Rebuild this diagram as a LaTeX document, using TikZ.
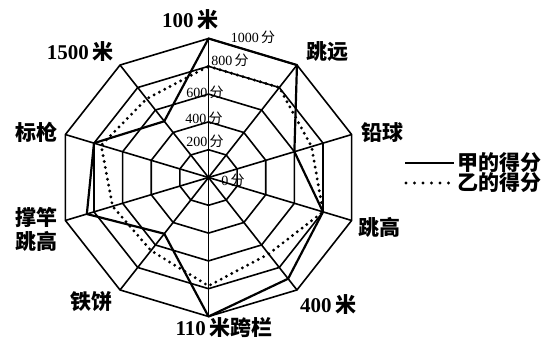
\documentclass[tikz,border=0pt]{standalone}
\usepackage{fontspec}
\setmainfont{Liberation Serif}
\newfontfamily\cjk{Noto Sans CJK SC}
\usetikzlibrary{calc}
\tikzset{
  grid/.style={line width=1.6pt, line join=miter},
  jia/.style={line width=2.2pt, line join=round},
  yi/.style={line width=3.2pt, line cap=round, dash pattern=on 0pt off 6pt},
  lab/.style={font=\fontsize{21}{22}\selectfont\bfseries, inner sep=0pt},
  ringlab/.style={font=\fontsize{14}{15}\selectfont, inner sep=0pt},
}
\begin{document}
\begin{tikzpicture}[x=1pt,y=-1pt]
\useasboundingbox[fill=white] (0,0) rectangle (556,340);
\coordinate (C) at (208.5,177.5);
\foreach \k in {0,...,9}{
  \pgfmathsetmacro\ang{90-36*\k}
  \coordinate (V\k) at ($(C)+({150.5*cos(\ang)},{-139*sin(\ang)})$);
}
% rings
\foreach \f in {0.2,0.4,0.6,0.8,1}{
  \draw[grid] ($(C)!\f!(V0)$) -- ($(C)!\f!(V1)$) -- ($(C)!\f!(V2)$) -- ($(C)!\f!(V3)$) -- ($(C)!\f!(V4)$)
    -- ($(C)!\f!(V5)$) -- ($(C)!\f!(V6)$) -- ($(C)!\f!(V7)$) -- ($(C)!\f!(V8)$) -- ($(C)!\f!(V9)$) -- cycle;
}
% spokes
\foreach \k in {0,...,9}{ \draw[grid] (C) -- (V\k); }
% data
\foreach \k/\v in {0/1,1/1,2/0.6,3/0.8,4/0.9,5/1,6/0.5,7/0.85,8/0.8,9/0.5}{
  \coordinate (A\k) at ($(C)!\v!(V\k)$);
}
\foreach \k/\v in {0/0.8,1/0.8,2/0.72,3/0.8,4/0.68,5/0.78,6/0.65,7/0.67,8/0.75,9/0.7}{
  \coordinate (B\k) at ($(C)!\v!(V\k)$);
}
\draw[jia] (A0) -- (A1) -- (A2) -- (A3) -- (A4) -- (A5) -- (A6) -- (A7) -- (A8) -- (A9) -- cycle;
\draw[yi] (B0) -- (B1) -- (B2) -- (B3) -- (B4) -- (B5) -- (B6) -- (B7) -- (B8) -- (B9) -- cycle;
% ring labels
\node[ringlab] (r1000) at (253,37) {1000\,{\cjk 分}};
\node[ringlab] (r800) at (230,60) {800\,{\cjk 分}};
\node[ringlab] (r600) at (205,92) {600\,{\cjk 分}};
\node[ringlab] (r400) at (204,118) {400\,{\cjk 分}};
\node[ringlab] (r200) at (205,141) {200\,{\cjk 分}};
\node[ringlab] (r0) at (233,180) {0\,{\cjk 分}};
% axis labels
\node[lab] (l0) at (190,20) {100\,{\cjk 米}};
\node[lab] (l1) at (327,52) {\cjk 跳远};
\node[lab] (l2) at (382,133) {\cjk 铅球};
\node[lab] (l3) at (379,227) {\cjk 跳高};
\node[lab] (l4) at (328,305) {400\,{\cjk 米}};
\node[lab] (l5) at (224,328) {110\,{\cjk 米跨栏}};
\node[lab] (l6) at (91,302) {\cjk 铁饼};
\node[lab, align=center] (l7) at (37,229) {{\cjk 撑竿}\\[2pt]{\cjk 跳高}};
\node[lab] (l8) at (37,132) {\cjk 标枪};
\node[lab] (l9) at (80,52) {1500\,{\cjk 米}};
% legend
\coordinate (ga) at (405,163);
\coordinate (gb) at (454,163);
\coordinate (ha) at (406,183);
\coordinate (hb) at (454,183);
\draw[line width=2.8pt] (ga) -- (gb);
\draw[line width=3.2pt, line cap=round, dash pattern=on 0pt off 8.5pt] (ha) -- (hb);
\node[lab, anchor=west] (g1) at (457,163) {\cjk 甲的得分};
\node[lab, anchor=west] (g2) at (457,183) {\cjk 乙的得分};
\end{tikzpicture}
\end{document}
